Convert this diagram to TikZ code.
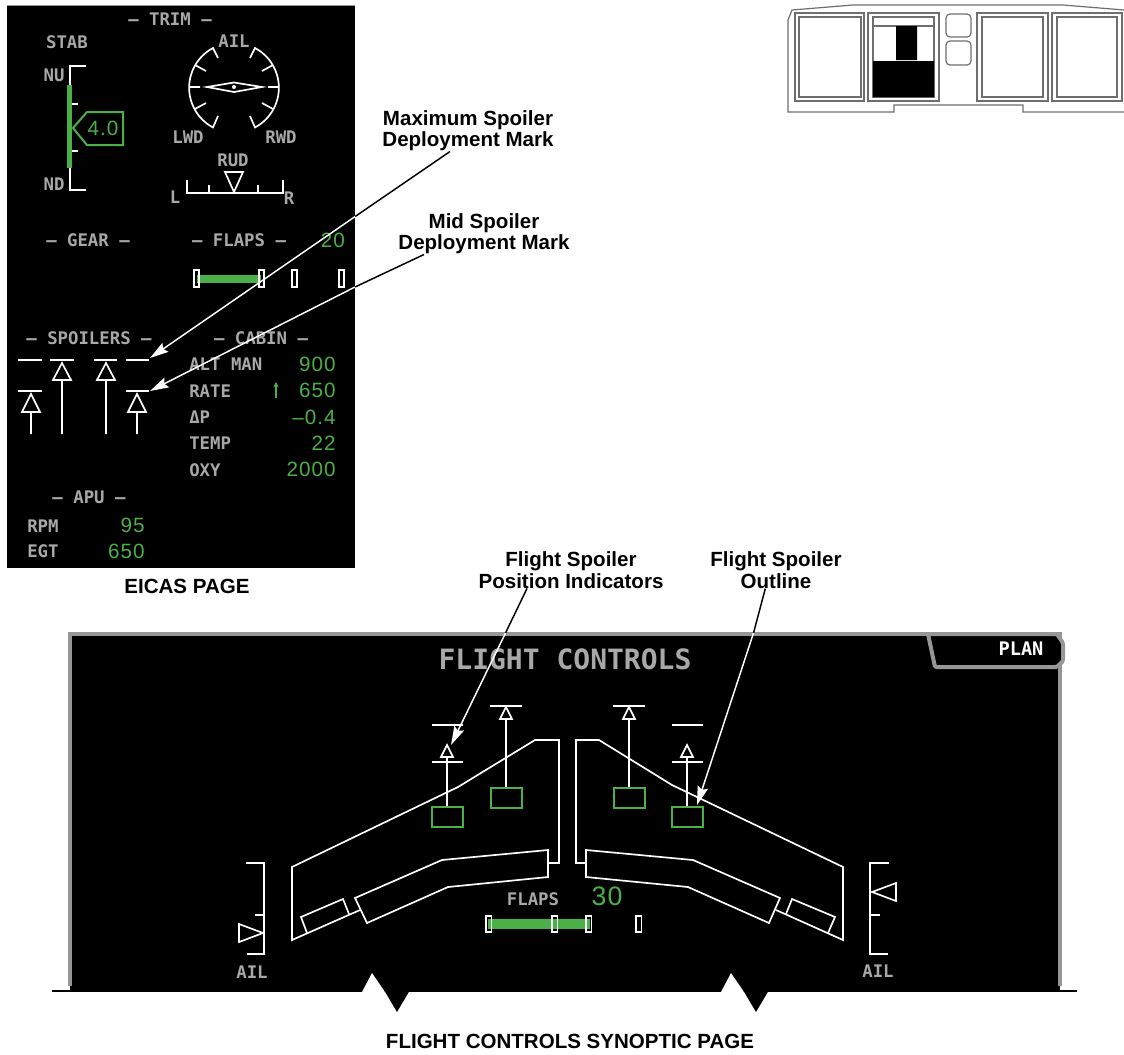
\documentclass[tikz,border=0pt]{standalone}
\usepackage{xcolor}
\usepackage{fontspec}
\setmainfont{Liberation Sans}
\newfontfamily\dispfont{DejaVu Sans Mono}
\newfontfamily\readfont[LetterSpace=5]{Liberation Sans}
\usepackage{tikz}
\usetikzlibrary{arrows.meta}
\definecolor{displaygreen}{RGB}{76,176,72}
\definecolor{displaygrey}{RGB}{168,168,168}
\definecolor{framegrey}{RGB}{150,150,150}
\definecolor{insetgrey}{RGB}{110,110,110}

\begin{document}
\begin{tikzpicture}[
      x=0.75pt, y=-0.75pt,
      caption/.style={font=\bfseries\fontsize{15.4}{16}\selectfont, align=center, text=black, inner sep=0pt},
      legend/.style={font=\dispfont\bfseries\fontsize{13}{13}\selectfont, text=displaygrey, inner sep=0pt, text height=9.5pt, text depth=0pt},
      readout/.style={font=\readfont\fontsize{15.5}{15.5}\selectfont, text=displaygreen, inner sep=0pt, text height=11pt, text depth=0pt},
      symbol/.style={draw=white, line width=1.25pt},
      greenbox/.style={draw=displaygreen, line width=1.1pt},
      flapmark/.style={draw=white, line width=0.8pt},
      flapbar/.style={fill=displaygreen},
      leader/.style={draw=black, line width=1.1pt},
      leaderin/.style={draw=white, line width=1.1pt, -{Stealth[length=14pt, width=8pt, inset=2pt]}},
      inset/.style={draw=insetgrey, line width=0.9pt}
    ]
      \useasboundingbox (0,0) rectangle (1124,1054);

      % EICAS panel
      \fill[black] (7,5) rectangle (355,568);
      \draw[framegrey, line width=0.6pt] (7,5) -- (355,5);

      % Trim
      \node[legend] (trimhead) at (170,19) {– TRIM –};
      \node[legend] (stab) at (67,42) {STAB};
      \node[legend] (nu) at (54,75) {NU};
      \node[legend] (nd) at (54,184) {ND};
      \draw[symbol] (86,66) -- (70,66) -- (70,190) -- (86,190);
      \draw[symbol] (70,104) -- (78,104) (70,151) -- (78,151);
      \draw[displaygreen, line width=4pt] (69.5,85) -- (69.5,168);
      \draw[greenbox, line width=1.5pt] (73,128) -- (87,112) -- (123,112) -- (123,145) -- (87,145) -- cycle;
      \node[readout] (stabvalue) at (103,128) {4.0};

      \node[legend] (ail) at (234,41) {AIL};
      \draw[symbol] (218,58) -- (213,48) arc[start angle=242, end angle=118, radius=45] -- (218,116);
      \draw[symbol] (250,58) -- (255,48) arc[start angle=-62, end angle=62, radius=45] -- (250,116);
      \draw[symbol] (195,65) -- (206,71) (189,87) -- (200,87) (195,109) -- (206,103);
      \draw[symbol] (273,65) -- (262,71) (279,87) -- (268,87) (273,109) -- (262,103);
      \draw[symbol] (207,87) -- (234,82.5) -- (262,87) -- (234,92) -- cycle;
      \fill[white] (234,87) circle[radius=2];
      \node[legend] (lwd) at (188,137) {LWD};
      \node[legend] (rwd) at (281,137) {RWD};

      \node[legend] (rud) at (233,160) {RUD};
      \node[legend] (rudl) at (175,197) {L};
      \node[legend] (rudr) at (289,198) {R};
      \draw[symbol] (187,180) -- (187,193) -- (283,193) -- (283,180);
      \draw[symbol] (209,185) -- (209,193) (258,185) -- (258,193);
      \draw[symbol] (225,172) -- (243,172) -- (234,192) -- cycle;

      % Gear and flaps
      \node[legend] (gearhead) at (88,240) {– GEAR –};
      \node[legend] (flapshead) at (239,240) {– FLAPS –};
      \node[readout] (flapsvalue) at (333,240) {20};
      \fill[flapbar] (197,274.5) rectangle (261,283);
      \foreach \x in {194,259,292,339}
        \draw[flapmark] (\x,270) rectangle (\x+5,287);

      % Spoilers
      \node[legend] (spoilershead) at (89,338) {– SPOILERS –};
      \draw[symbol] (18,360) -- (42,360) (50,360) -- (74,360) (94,360) -- (117,360) (126,360) -- (149,360);
      \draw[symbol] (18,391) -- (42,391) (126,391) -- (149,391);
      \foreach \x in {31,137}
        \draw[symbol] (\x,394) -- (\x+9,412) -- (\x-9,412) -- cycle (\x,412) -- (\x,434);
      \foreach \x in {62,106}
        \draw[symbol] (\x,363) -- (\x+9,380) -- (\x-9,380) -- cycle (\x,380) -- (\x,434);

      % Cabin
      \node[legend] (cabinhead) at (261,338) {– CABIN –};
      \node[legend, anchor=west] (altman) at (189,364) {ALT MAN};
      \node[legend, anchor=west] (rate) at (189,391) {RATE};
      \node[legend, anchor=west] (deltap) at (189,417) {ΔP};
      \node[legend, anchor=west] (temp) at (189,443) {TEMP};
      \node[legend, anchor=west] (oxy) at (189,470) {OXY};
      \node[readout, anchor=east] (altvalue) at (336,364) {900};
      \node[readout, anchor=east] (ratevalue) at (336,390) {650};
      \node[readout, anchor=east] (deltavalue) at (336,417) {–0.4};
      \node[readout, anchor=east] (tempvalue) at (336,443) {22};
      \node[readout, anchor=east] (oxyvalue) at (336,469) {2000};
      \draw[displaygreen, line width=1pt, -{Stealth[length=4pt, width=4pt]}] (276,398) -- (276,382);

      % APU
      \node[legend] (apuhead) at (89,497) {– APU –};
      \node[legend, anchor=west] (rpm) at (27,526) {RPM};
      \node[legend, anchor=west] (egt) at (27,551) {EGT};
      \node[readout, anchor=east] (rpmvalue) at (145,525) {95};
      \node[readout, anchor=east] (egtvalue) at (145,551) {650};

      \node[caption] (eicaslabel) at (187,586) {EICAS PAGE};

      % Locator inset
      \draw[inset] (1124,10) -- (1063,5) -- (853,5) -- (792,10) -- (788,20) -- (788,112) -- (894,112) -- (894,105) -- (1023,105) -- (1023,112) -- (1124,112);
      \foreach \xa/\xb/\xc/\xd in {795/799/861/864, 868/873/934/939, 977/982/1043/1048, 1052/1057/1117/1122}
        \draw[inset] (\xa,13) rectangle (\xd,101) (\xb,17) rectangle (\xc,97);
      \draw[inset] (873,26) -- (934,26);
      \fill[black] (896,26) rectangle (917,60) (873,61) rectangle (934,97);
      \draw[inset, rounded corners=3pt] (946,14) rectangle (971,37) (946,41) rectangle (971,65);

      % Synoptic panel
      \fill[black] (70,634) rectangle (1060,991);
      \draw[framegrey, line width=3pt] (70,986) -- (70,634) -- (1060,634) -- (1060,986);
      \draw[framegrey, line width=3pt, fill=black, rounded corners=1pt] (928,634) -- (935,667) -- (1057,667) -- (1063,661) -- (1063,643) -- (1057,634) -- cycle;
      \node[font=\dispfont\bfseries\fontsize{14}{14}\selectfont, text=white, inner sep=0pt] (plan) at (1021,649) {PLAN};
      \node[legend, font=\dispfont\bfseries\fontsize{21}{21}\selectfont, text height=15.3pt] (synoptichead) at (565,659) {FLIGHT CONTROLS};

      % Bottom edge
      \draw[black, line width=1.5pt] (52,990.5) -- (1077,990.5);
      \foreach \dx in {0,359} {
        \fill[white] (362+\dx,992) -- (372+\dx,973) -- (385+\dx,992) -- cycle;
        \fill[black] (384+\dx,990) -- (397+\dx,1012) -- (410+\dx,990) -- cycle;
      }

      % Left wing
      \draw[symbol] (548,863) -- (559,863) -- (559,740) -- (535,740) -- (458,787) -- (292,867) -- (292,940) -- (360,910);
      \draw[symbol] (307,933) -- (301,917) -- (343,899) -- (349,914);
      \draw[symbol] (355,898) -- (442,860) -- (548,850) -- (548,877) -- (448,887) -- (367,923) -- cycle;

      % Right wing
      \draw[symbol] (586,863) -- (576,863) -- (576,740) -- (599,740) -- (672,785) -- (843,867) -- (843,940) -- (776,910);
      \draw[symbol] (786,914) -- (792,899) -- (835,917) -- (828,933);
      \draw[symbol] (586,850) -- (693,860) -- (780,898) -- (769,923) -- (688,887) -- (586,877) -- cycle;

      % Spoiler indicators
      \foreach \x in {447,687} {
        \draw[symbol] (\x-15,725) -- (\x+16,725) (\x-15,762) -- (\x+16,762);
        \draw[symbol] (\x,745) -- (\x+6,757) -- (\x-6,757) -- cycle (\x,757) -- (\x,807);
        \draw[greenbox] (\x-15,807) rectangle (\x+16,827);
      }
      \foreach \x in {506,629} {
        \draw[symbol] (\x-16,706) -- (\x+16,706);
        \draw[symbol] (\x,707) -- (\x+6,719) -- (\x-6,719) -- cycle (\x,719) -- (\x,788);
        \draw[greenbox] (\x-15,788) rectangle (\x+16,808);
      }

      % Ailerons
      \draw[symbol] (246,863) -- (264,863) -- (264,954) -- (247,954) (255,915) -- (264,915);
      \draw[symbol] (239,924) -- (263,933) -- (239,942) -- cycle;
      \draw[symbol] (889,863) -- (870,863) -- (870,954) -- (888,954) (870,915) -- (880,915);
      \draw[symbol] (872,892) -- (896,883) -- (896,901) -- cycle;
      \node[legend] (ailleft) at (252,972) {AIL};
      \node[legend] (ailright) at (878,971) {AIL};

      % Flaps
      \node[legend] (flapslabel) at (533,899) {FLAPS};
      \node[readout, font=\readfont\fontsize{20}{20}\selectfont, text height=14.5pt] (flapsangle) at (607,896) {30};
      \fill[flapbar] (488,919) rectangle (590,929);
      \foreach \x in {486,552,586,636}
        \draw[flapmark] (\x,916) rectangle (\x+5.5,932);

      \node[caption] (synopticlabel) at (570,1041) {FLIGHT CONTROLS SYNOPTIC PAGE};

      % Callouts
      \node[caption] (maxlabel) at (468,131) {Maximum Spoiler\\Deployment Mark};
      \node[caption] (midlabel) at (484,234) {Mid Spoiler\\Deployment Mark};
      \node[caption] (poslabel) at (571,570) {Flight Spoiler\\Position Indicators};
      \node[caption] (outlinelabel) at (776,570) {Flight Spoiler\\Outline};

      \coordinate (maxedge) at (355,216.6);
      \coordinate (maxtip) at (150,358);
      \coordinate (midedge) at (355,287);
      \coordinate (midtip) at (150,391);
      \coordinate (posedge) at (505.5,633);
      \coordinate (postip) at (451,745);
      \coordinate (outlineedge) at (753.5,633);
      \coordinate (outlinetip) at (697,805);

      \draw[leader] ([xshift=-13.5pt]maxlabel.south) -- (maxedge);
      \draw[leaderin] (maxedge) -- (maxtip);
      \draw[leader] ([xshift=-45pt]midlabel.south) -- (midedge);
      \draw[leaderin] (midedge) -- (midtip);
      \draw[leader] ([xshift=-33pt]poslabel.south) -- (posedge);
      \draw[leaderin] (posedge) -- (postip);
      \draw[leader] ([xshift=-8pt]outlinelabel.south) -- (outlineedge);
      \draw[leaderin] (outlineedge) -- (outlinetip);

    \end{tikzpicture}
\end{document}
